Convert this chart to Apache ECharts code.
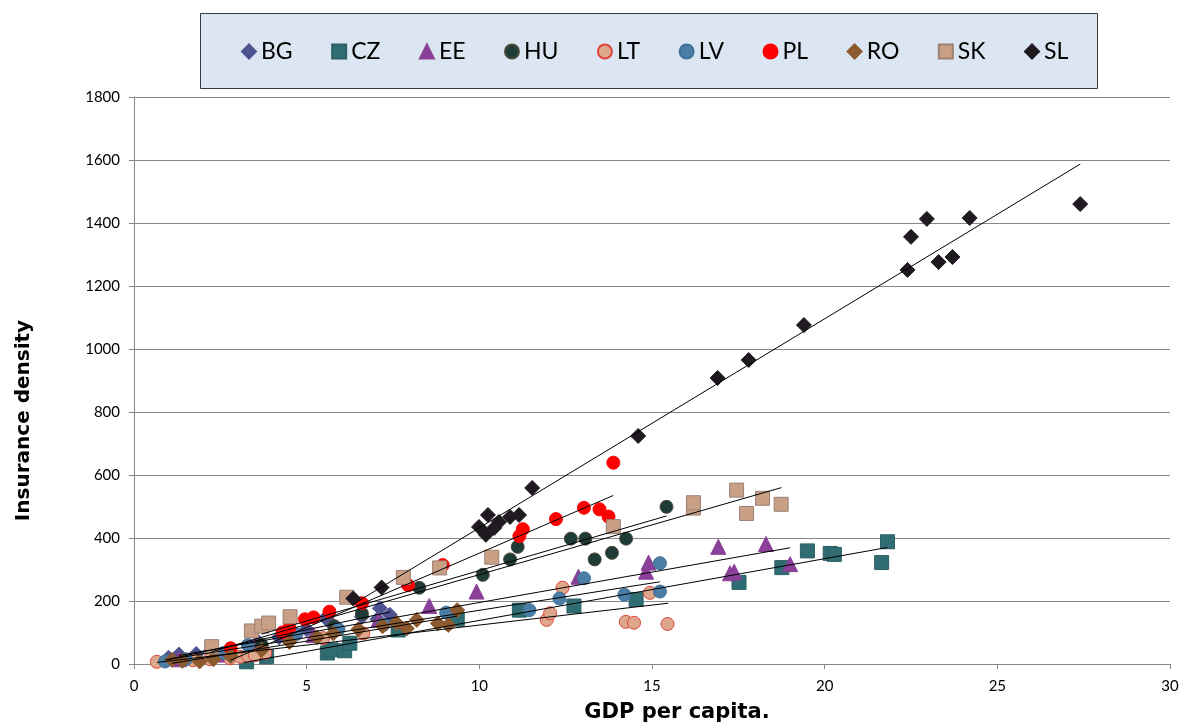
<!DOCTYPE html>
<html>
<head>
<meta charset="utf-8">
<script src="https://cdn.jsdelivr.net/npm/echarts@6/dist/echarts.min.js"></script>
<style>
  html, body { margin: 0; padding: 0; background: #fff; }
  #chart { width: 1181px; height: 724px; }
</style>
</head>
<body>
<div id="chart"></div>
<script>
// countries, in legend order
const countries = ['BG', 'CZ', 'EE', 'HU', 'LT', 'LV', 'PL', 'RO', 'SK', 'SL'];

// [GDP per capita, insurance density]
const bgPoints = [[1.0, 20], [1.3, 30], [1.8, 32], [2.2, 40], [3.6, 70], [4.2, 85], [5.0, 110], [5.6, 140], [5.58, 150],
  [6.6, 150], [7.05, 142], [7.12, 177], [7.41, 156]];
const czPoints = [[3.26, 7], [3.84, 23], [5.6, 35], [5.7, 45], [6.1, 42], [6.25, 66], [7.65, 108], [9.36, 142],
  [11.16, 171], [12.74, 184], [14.54, 205], [17.52, 259], [18.76, 306], [19.5, 359], [20.16, 351], [20.28, 348],
  [21.65, 322], [21.82, 388]];
const eePoints = [[1.3, 15], [2.4, 30], [3.5, 55], [5.2, 92], [7.08, 140], [8.55, 184], [9.92, 230], [12.87, 277],
  [14.83, 293], [14.9, 322], [16.92, 372], [17.26, 288], [17.38, 293], [18.3, 381], [19.0, 317]];
const huPoints = [[3.7, 60], [4.6, 95], [5.8, 120], [6.6, 160], [8.26, 242], [10.1, 283],
  [10.89, 332], [11.11, 372], [12.65, 398], [13.07, 398], [13.34, 332], [13.84, 353], [14.25, 398], [15.42, 499]];
const ltPoints = [[0.66, 7], [1.7, 12], [2.2, 15], [2.78, 18], [3.07, 23], [3.3, 26], [3.5, 28], [3.8, 35],
  [5.48, 82], [6.64, 97], [11.95, 140], [12.05, 161], [12.41, 242], [14.24, 134], [14.48, 131], [14.94, 226],
  [15.45, 127]];
const lvPoints = [[0.9, 8], [1.5, 15], [2.6, 35], [3.3, 60], [4.7, 95], [5.92, 110], [7.22, 124], [9.04, 163],
  [11.45, 171], [12.32, 208], [13.03, 272], [14.2, 220], [15.23, 230], [15.23, 320]];
const plPoints = [[2.8, 50], [4.3, 100], [4.5, 115], [4.95, 142], [5.2, 148], [5.66, 166], [6.6, 193], [7.94, 250],
  [8.94, 314], [11.16, 406], [11.26, 428], [12.22, 460], [13.03, 496], [13.48, 491], [13.74, 468], [13.88, 639]];
const roPoints = [[1.1, 13], [1.4, 10], [1.9, 8], [2.3, 15], [2.8, 25], [3.7, 45], [4.5, 70], [5.3, 85], [5.77, 97],
  [6.5, 110], [7.2, 120], [7.6, 130], [7.9, 113], [8.19, 140], [8.8, 129], [9.1, 124], [9.36, 171]];
const skPoints = [[2.25, 55], [3.4, 105], [3.7, 120], [3.9, 130], [4.52, 150], [6.16, 212], [7.8, 275], [8.85, 305],
  [10.36, 339], [13.88, 436], [16.2, 495], [16.2, 512], [17.45, 552], [17.74, 478], [18.2, 526], [18.74, 507]];
const slPoints = [[6.35, 208], [7.17, 243], [9.99, 435], [10.19, 410],
  [10.25, 473], [10.43, 432], [10.57, 451], [10.89, 467], [11.15, 473], [11.53, 559], [14.6, 724], [16.9, 908],
  [17.8, 965], [19.4, 1076], [22.4, 1251], [22.5, 1356], [22.96, 1413], [23.3, 1276], [23.7, 1292], [24.2, 1416],
  [27.4, 1460]];

// linear trendlines as drawn in the picture: [x start, y start, x end, y end]
const bgTrend = [1.0, 15, 7.41, 165];
const czTrend = [3.2, 5, 21.82, 370];
const eeTrend = [1.3, 27, 19.0, 369];
const huTrend = [3.7, 95, 15.42, 470];
const ltTrend = [0.66, 5, 15.47, 193];
const lvTrend = [0.9, 13, 15.23, 261];
const plTrend = [2.8, 12, 13.88, 535];
const roTrend = [1.1, 2, 9.36, 152];
const skTrend = [2.25, 39, 18.75, 560];
const slTrend = [6.35, 190, 27.4, 1587];

const seriesPoints = [bgPoints, czPoints, eePoints, huPoints, ltPoints, lvPoints, plPoints, roPoints, skPoints, slPoints];
const trends = [bgTrend, czTrend, eeTrend, huTrend, ltTrend, lvTrend, plTrend, roTrend, skTrend, slTrend];

const symbols = ['diamond', 'rect', 'triangle', 'circle', 'circle', 'circle', 'circle', 'diamond', 'rect', 'diamond'];
const sizes = [15, 14, 15, 13, 13, 13, 13, 15, 14, 15];
const fills = ['#4e5290', '#2f6d72', '#8a3f98', '#1f3b36', '#dda78c', '#4b7ea7', '#ff0000', '#8c5a2e', '#c9a085', '#1e1a1f'];
const borders = ['#4e5290', '#2a5f63', '#8a3f98', '#4a4a3a', '#e0443a', '#3f7198', '#ff0000', '#8c5a2e', '#9a8075', '#1e1a1f'];

const chart = echarts.init(document.getElementById('chart'));

const scatterSeries = countries.map((name, i) => ({
  name: name,
  type: 'scatter',
  symbol: symbols[i],
  symbolSize: sizes[i],
  data: seriesPoints[i],
  itemStyle: { color: fills[i], borderColor: borders[i], borderWidth: 1, opacity: 1 },
  z: 3
}));

const lineSeries = countries.map((name, i) => ({
  name: name + ' trend',
  type: 'line',
  symbol: 'none',
  silent: true,
  data: [[trends[i][0], trends[i][1]], [trends[i][2], trends[i][3]]],
  lineStyle: { color: '#000', width: 1 },
  z: 4
}));

chart.setOption({
  animation: false,
  textStyle: { fontFamily: 'Lato' },
  graphic: [{
    type: 'rect',
    shape: { x: 200.5, y: 13.5, width: 897, height: 75 },
    style: { fill: '#dce6f2', stroke: '#3a3a3a', lineWidth: 1 },
    z: -1
  }],
  legend: {
    data: countries,
    left: 236,
    top: 35,
    itemGap: 38.5,
    itemWidth: 14,
    itemHeight: 14,
    textStyle: { fontSize: 23, color: '#000', fontFamily: 'Lato' }
  },
  grid: { left: 134, right: 11, top: 97, bottom: 60, outerBoundsMode: 'none' },
  xAxis: {
    type: 'value',
    min: 0,
    max: 30,
    interval: 5,
    name: 'GDP per capita.',
    nameLocation: 'middle',
    nameGap: 38,
    nameTextStyle: { fontSize: 21, fontWeight: 'bold', color: '#000', fontFamily: 'DejaVu Sans', padding: [0, 0, 0, 50] },
    axisLine: { show: true, lineStyle: { color: '#868686' } },
    axisTick: { show: true, length: 5, lineStyle: { color: '#868686' } },
    axisLabel: { fontSize: 15, color: '#000', margin: 15 },
    splitLine: { show: false }
  },
  yAxis: {
    type: 'value',
    min: 0,
    max: 1800,
    interval: 200,
    name: 'Insurance density',
    nameLocation: 'middle',
    nameRotate: 90,
    nameGap: 100,
    nameTextStyle: { fontSize: 20, fontWeight: 'bold', color: '#000', fontFamily: 'DejaVu Sans', padding: [0, 80, 0, 0] },
    axisLine: { show: true, lineStyle: { color: '#868686' } },
    axisTick: { show: true, length: 5, lineStyle: { color: '#868686' } },
    axisLabel: { fontSize: 15, color: '#000', margin: 14, formatter: v => String(v) },
    splitLine: { show: true, lineStyle: { color: '#868686', width: 1 } }
  },
  series: scatterSeries.concat(lineSeries)
});
</script>
</body>
</html>
